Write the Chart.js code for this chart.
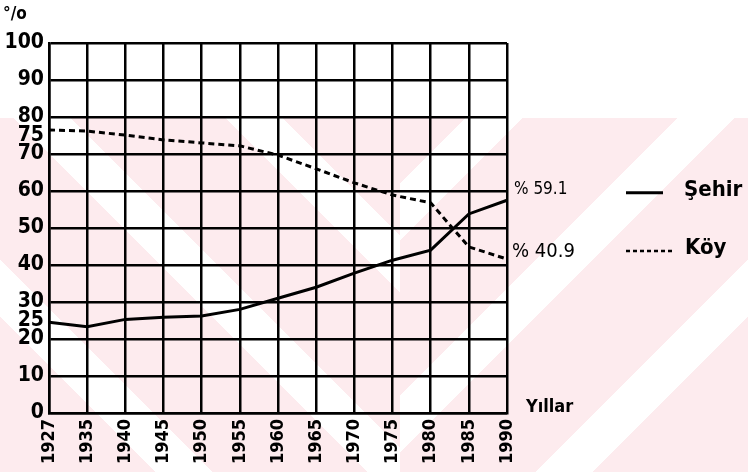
<!DOCTYPE html>
<html>
<head>
<meta charset="utf-8">
<script src="https://cdn.jsdelivr.net/npm/chart.js@4/dist/chart.umd.min.js"></script>
<style>
    html, body { margin: 0; padding: 0; }
    body {
        width: 748px;
        height: 472px;
        background-color: #fff;
        position: relative;
        overflow: hidden;
    }
    /* faint pink watermark behind the chart */
    .wm-left, .wm-right {
        position: absolute;
        top: 118px;
        height: 354px;
    }
    .wm-left {
        left: 0;
        width: 400px;
        background: repeating-linear-gradient(45deg, #fdebee 0 110px, #ffffff 110px 150px);
    }
    .wm-right {
        left: 400px;
        width: 348px;
        background: repeating-linear-gradient(-45deg, #fdebee 0 110px, #ffffff 110px 150px);
    }
    #wrap { position: absolute; left: 0; top: 0; width: 748px; height: 472px; }
</style>
</head>
<body>
<div class="wm-left"></div>
<div class="wm-right"></div>
<div id="wrap"><canvas id="chart" width="748" height="472"></canvas></div>
<script>
// data
const years = ["1927", "1935", "1940", "1945", "1950", "1955", "1960", "1965", "1970", "1975", "1980", "1985", "1990"];
const sehir = [24.5, 23.3, 25.3, 25.9, 26.2, 28.0, 31.0, 34.0, 37.8, 41.3, 44.0, 53.8, 57.5];
const koy = [76.5, 76.2, 75.1, 73.8, 73.0, 72.2, 69.7, 66.0, 62.2, 58.9, 56.8, 44.9, 41.6];
const yTickLabels = [0, 10, 20, 25, 30, 40, 50, 60, 70, 75, 80, 90, 100];
const endLabels = ["% 59.1", "% 40.9"];

const FONT = "'DejaVu Sans Condensed'";

// extra texts: unit, end values, legend, axis title
const annotations = {
    id: "annotations",
    afterDraw(chart) {
        const ctx = chart.ctx;
        const x = chart.scales.x;
        const y = chart.scales.y;
        ctx.save();
        ctx.fillStyle = "#000";
        ctx.strokeStyle = "#000";
        ctx.textBaseline = "middle";
        ctx.textAlign = "left";

        ctx.font = "bold 17px " + FONT;
        ctx.fillText("°/o", 3, 15);

        const right = x.right;
        ctx.font = "17px " + FONT;
        ctx.fillText(endLabels[0], right + 7, y.getPixelForValue(60.5));
        ctx.font = "20px " + FONT;
        ctx.fillText(endLabels[1], right + 5, y.getPixelForValue(43.5));

        // legend
        const ly1 = y.getPixelForValue(59.5);
        const ly2 = y.getPixelForValue(43.8);
        ctx.lineWidth = 3;
        ctx.beginPath();
        ctx.moveTo(626, ly1);
        ctx.lineTo(663, ly1);
        ctx.stroke();
        ctx.setLineDash([4, 3]);
        ctx.lineWidth = 2.5;
        ctx.beginPath();
        ctx.moveTo(626, ly2);
        ctx.lineTo(672, ly2);
        ctx.stroke();
        ctx.setLineDash([]);

        ctx.font = "bold 22px " + FONT;
        ctx.fillText(chart.data.datasets[0].label, 684, ly1 - 3);
        ctx.fillText(chart.data.datasets[1].label, 685, ly2 - 3);

        ctx.font = "bold 18px " + FONT;
        ctx.fillText("Yıllar", right + 19, y.getPixelForValue(1.5));
        ctx.restore();
    }
};

const ctx = document.getElementById("chart").getContext("2d");
new Chart(ctx, {
    type: "line",
    data: {
        labels: years,
        datasets: [{
            label: "Şehir",
            data: sehir,
            borderColor: "#000",
            borderWidth: 3,
            pointRadius: 0,
            tension: 0
        }, {
            label: "Köy",
            data: koy,
            borderColor: "#000",
            borderWidth: 3,
            borderDash: [6, 4],
            pointRadius: 0,
            tension: 0
        }]
    },
    options: {
        responsive: false,
        animation: false,
        layout: { padding: { top: 43, right: 241, left: 0, bottom: 0 } },
        plugins: {
            legend: { display: false },
            tooltip: { enabled: false }
        },
        scales: {
            x: {
                offset: false,
                grid: { color: "#000", lineWidth: 2.5, drawTicks: false },
                border: { color: "#000", width: 2.5 },
                ticks: {
                    color: "#000",
                    font: { family: "DejaVu Sans Condensed", size: 18, weight: "bold" },
                    minRotation: 90,
                    maxRotation: 90,
                    autoSkip: false,
                    padding: 6
                },
                afterFit(scale) { scale.height = 59; }
            },
            y: {
                min: 0,
                max: 100,
                grid: {
                    color: c => (c.tick.value % 10 === 0 ? "#000" : "rgba(0,0,0,0)"),
                    lineWidth: 2.5,
                    drawTicks: false
                },
                border: { color: "#000", width: 2.5 },
                ticks: {
                    stepSize: 5,
                    autoSkip: false,
                    color: "#000",
                    font: { family: "DejaVu Sans Condensed", size: 21, weight: "bold" },
                    padding: 5,
                    callback: v => (yTickLabels.includes(v) ? String(v) : "")
                },
                afterFit(scale) { scale.width = 49; }
            }
        }
    },
    plugins: [annotations]
});
</script>
</body>
</html>
